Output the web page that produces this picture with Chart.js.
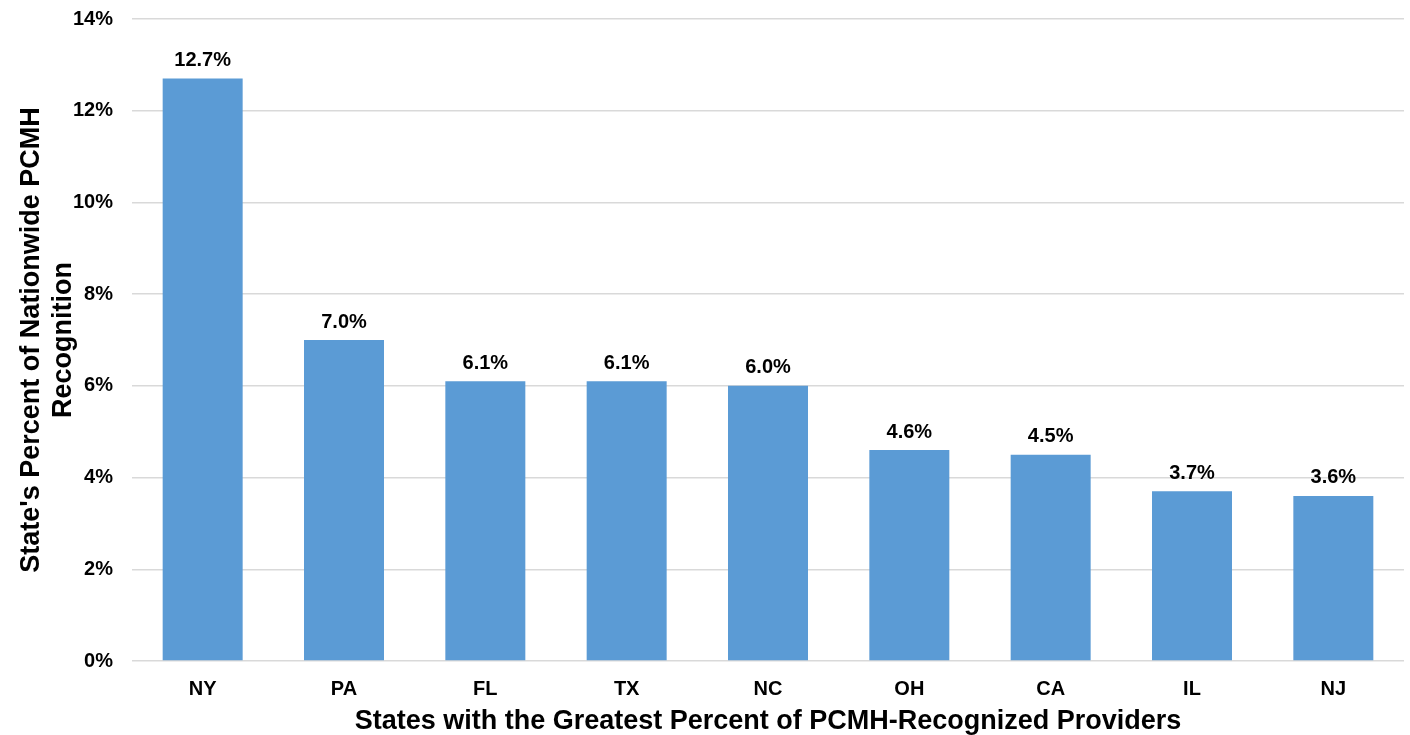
<!DOCTYPE html>
<html>
<head>
<meta charset="utf-8">
<script src="https://cdn.jsdelivr.net/npm/chart.js@4"></script>
<style>
  html, body { margin: 0; padding: 0; background: #fff; }
  #wrap { width: 1410px; height: 735px; }
</style>
</head>
<body>
<div id="wrap"><canvas id="chart" width="1410" height="735"></canvas></div>
<script>
// data
const states = ["NY", "PA", "FL", "TX", "NC", "OH", "CA", "IL", "NJ"];
const percents = [12.7, 7.0, 6.1, 6.1, 6.0, 4.6, 4.5, 3.7, 3.6];
const yTicks = [0, 2, 4, 6, 8, 10, 12, 14];

const FONT = "'Liberation Sans', Arial, sans-serif";

// labels above each bar
const barLabels = {
  id: "barLabels",
  afterDatasetsDraw(chart) {
    const ctx = chart.ctx;
    const meta = chart.getDatasetMeta(0);
    ctx.save();
    ctx.font = "bold 20px " + FONT;
    ctx.fillStyle = "#000";
    ctx.textAlign = "center";
    ctx.textBaseline = "middle";
    meta.data.forEach((bar, i) => {
      ctx.fillText(percents[i].toFixed(1) + "%", bar.x, bar.y - 18);
    });
    ctx.restore();
  }
};

new Chart(document.getElementById("chart"), {
  type: "bar",
  data: {
    labels: states,
    datasets: [{
      data: percents,
      backgroundColor: "#5B9BD5",
      borderWidth: 0,
      categoryPercentage: 1,
      barPercentage: 0.566
    }]
  },
  options: {
    responsive: false,
    animation: false,
    layout: { padding: { top: 19, right: 6, left: 0, bottom: 0 } },
    plugins: { legend: { display: false }, tooltip: { enabled: false } },
    scales: {
      x: {
        grid: { display: false, drawTicks: false },
        border: { display: false },
        ticks: { color: "#000", font: { family: FONT, size: 20, weight: "bold" }, padding: 16 },
        title: {
          display: true,
          text: "States with the Greatest Percent of PCMH-Recognized Providers",
          color: "#000",
          font: { family: FONT, size: 27, weight: "bold" },
          padding: { top: 6, bottom: -3 }
        },
        afterFit(scale) { scale.height = 74; }
      },
      y: {
        min: 0,
        max: 14,
        afterBuildTicks(scale) { scale.ticks = yTicks.map(v => ({ value: v })); },
        grid: { color: "#d9d9d9", lineWidth: 1.5, drawTicks: false },
        border: { display: false },
        ticks: {
          color: "#000",
          font: { family: FONT, size: 20, weight: "bold" },
          padding: 19,
          callback: v => v + "%"
        },
        title: {
          display: true,
          text: ["State's Percent of Nationwide PCMH", "Recognition"],
          color: "#000",
          font: { family: FONT, size: 27, weight: "bold" },
          padding: { top: 15, bottom: 6 }
        },
        afterFit(scale) {
          scale.width = 132;
          scale.paddingTop = 0;
          scale.paddingBottom = 0;
        }
      }
    }
  },
  plugins: [barLabels]
});
</script>
</body>
</html>
